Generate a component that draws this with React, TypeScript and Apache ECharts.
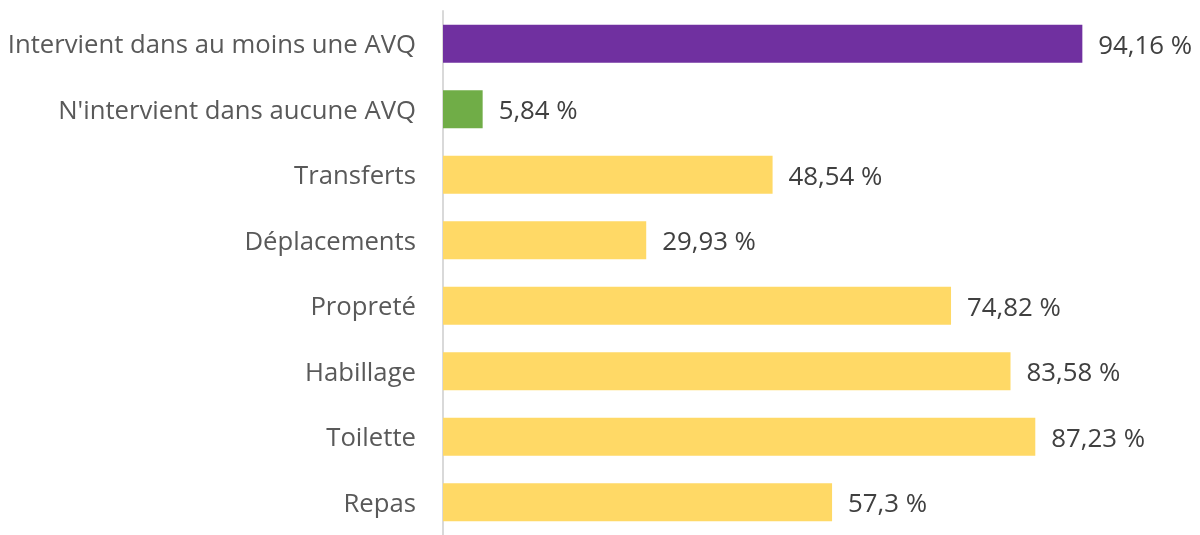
import React, { useEffect, useRef } from "react";
import * as echarts from "echarts";

const categories = [
  "Intervient dans au moins une AVQ",
  "N'intervient dans aucune AVQ",
  "Transferts",
  "Déplacements",
  "Propreté",
  "Habillage",
  "Toilette",
  "Repas",
];
const values = [94.16, 5.84, 48.54, 29.93, 74.82, 83.58, 87.23, 57.3];
const colors = ["#7030a0", "#70ad47", "#ffd966", "#ffd966", "#ffd966", "#ffd966", "#ffd966", "#ffd966"];

export default function App() {
  const ref = useRef<HTMLDivElement>(null);
  useEffect(() => {
    const chart = echarts.init(ref.current!, null, { renderer: "svg" });
    chart.setOption({
      animation: false,
      grid: { left: 443, right: 78, top: 11, height: 531, containLabel: false },
      xAxis: {
        type: "value",
        min: 0,
        max: 100,
        show: false,
      },
      yAxis: {
        type: "category",
        data: categories,
        inverse: true,
        axisLine: { show: true, lineStyle: { color: "#d9d9d9", width: 2 } },
        axisTick: { show: false },
        axisLabel: {
          color: "#595959",
          fontSize: 25.7,
          fontFamily: "Open Sans",
          margin: 27,
        },
      },
      series: [
        {
          type: "bar",
          barWidth: 38,
          data: values.map((v, i) => ({ value: v, itemStyle: { color: colors[i] } })),
          label: {
            show: true,
            position: "right",
            distance: 16,
            color: "#404040",
            fontSize: 25.8,
            fontFamily: "Open Sans",
            formatter: (p: any) => String(p.value).replace(".", ",") + " %",
          },
        },
      ],
    });
    return () => chart.dispose();
  }, []);
  return <div ref={ref} style={{ position: "fixed", left: 0, top: 0, width: 1200, height: 535 }} />;
}
